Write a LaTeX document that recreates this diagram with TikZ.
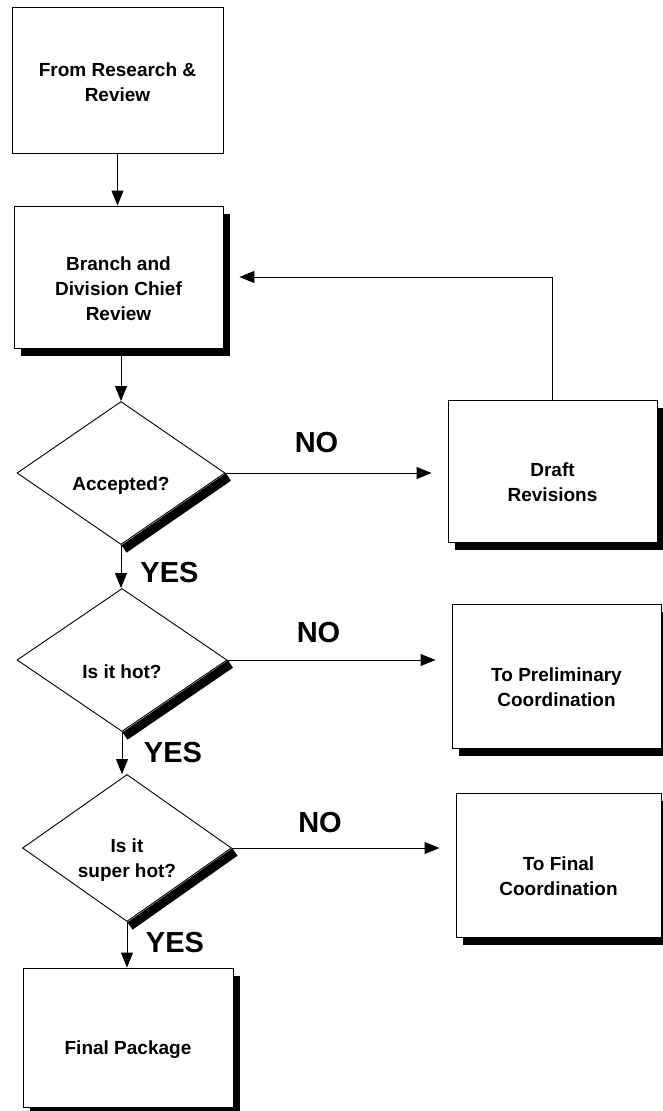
\documentclass[tikz,border=0pt]{standalone}
\usepackage{fontspec}
\setmainfont{Liberation Sans}
\usetikzlibrary{arrows.meta,shapes.geometric,shadows,calc}

\begin{document}
\begin{tikzpicture}[x=1pt,y=-1pt,
  box/.style={draw,fill=white,line width=0.9pt,inner sep=0pt,
    minimum width=209pt,minimum height=142pt},
  shadowbox/.style={box,drop shadow={shadow xshift=7pt,shadow yshift=-7.5pt,
    fill=black,opacity=1}},
  decision/.style={draw,fill=white,diamond,line width=0.9pt,inner sep=0pt,
    minimum width=209pt,minimum height=143pt},
  band/.style={line width=9pt},
  flow/.style={-{Triangle[length=15pt,width=12pt]},line width=0.9pt},
  boxtext/.style={font=\fontsize{19}{25}\selectfont\bfseries,align=center},
  answer/.style={font=\fontsize{29}{29}\selectfont\bfseries,inner sep=0pt}]
  \useasboundingbox (0,0) rectangle (663,1111);
  % main column
  \node[box,minimum width=211pt,minimum height=146pt,
    label={[boxtext,yshift=-2pt]center:From Research \&\\Review}]
    (research) at (117.5,80) {};
  \node[shadowbox,
    label={[boxtext,yshift=-12pt]center:Branch and\\Division Chief\\Review}]
    (review) at (118.5,277) {};
  \node[decision,minimum width=208pt,
    label={[boxtext,yshift=-13pt]center:Accepted?}]
    (accepted) at (121,473) {};
  \node[decision,minimum width=210pt,
    label={[boxtext,yshift=-11.5pt]center:Is it hot?}]
    (hot) at (122,660) {};
  \node[decision,minimum height=147pt,
    label={[boxtext,yshift=-12pt]center:Is it\\super hot?}]
    (superhot) at (127,848) {};
  \node[shadowbox,minimum width=210pt,minimum height=139pt,
    label={[boxtext,yshift=-12.5pt]center:Final Package}]
    (package) at (128,1037.5) {};
  % right column
  \node[shadowbox,label={[boxtext,yshift=-11pt]center:Draft\\Revisions}]
    (draft) at (552.5,471) {};
  \node[shadowbox,minimum height=144pt,
    label={[boxtext,yshift=-11pt]center:To Preliminary\\Coordination}]
    (prelim) at (556.5,676) {};
  \node[shadowbox,minimum width=205pt,minimum height=144pt,
    label={[boxtext,yshift=-11pt]center:To Final\\Coordination}]
    (finalco) at (558.5,865) {};
  % heavy edge under each diamond
  \foreach \d in {accepted,hot,superhot}
    \draw[band] ($(\d.east)+(3,4)$) -- ($(\d.south)+(3,4)$);
  % connectors
  \draw[flow] (research.south) -- (research.south |- review.north);
  \draw[flow] (accepted.north |- review.south) -- (accepted.north);
  \draw[flow] (accepted.south) -- (accepted.south |- hot.north);
  \draw[flow] (hot.south) -- (hot.south |- superhot.north);
  \draw[flow] (superhot.south) -- (superhot.south |- package.north);
  \draw[flow,shorten >=16pt] (accepted.east) -- (accepted.east -| draft.west);
  \draw[flow,shorten >=16pt] (hot.east) -- (hot.east -| prelim.west);
  \draw[flow,shorten >=16pt] (superhot.east) -- (superhot.east -| finalco.west);
  \draw[flow,shorten >=16pt] (draft.north) |- (review.east);
  % answers
  \foreach \n/\x/\y/\t in {yes1/169.5/572.5/YES,yes2/173/753/YES,
      yes3/175/942.5/YES,no1/316.5/442.5/NO,no2/318.5/632.5/NO,
      no3/320/823/NO}
    \node[answer] (\n) at (\x,\y) {\t};
\end{tikzpicture}
\end{document}
